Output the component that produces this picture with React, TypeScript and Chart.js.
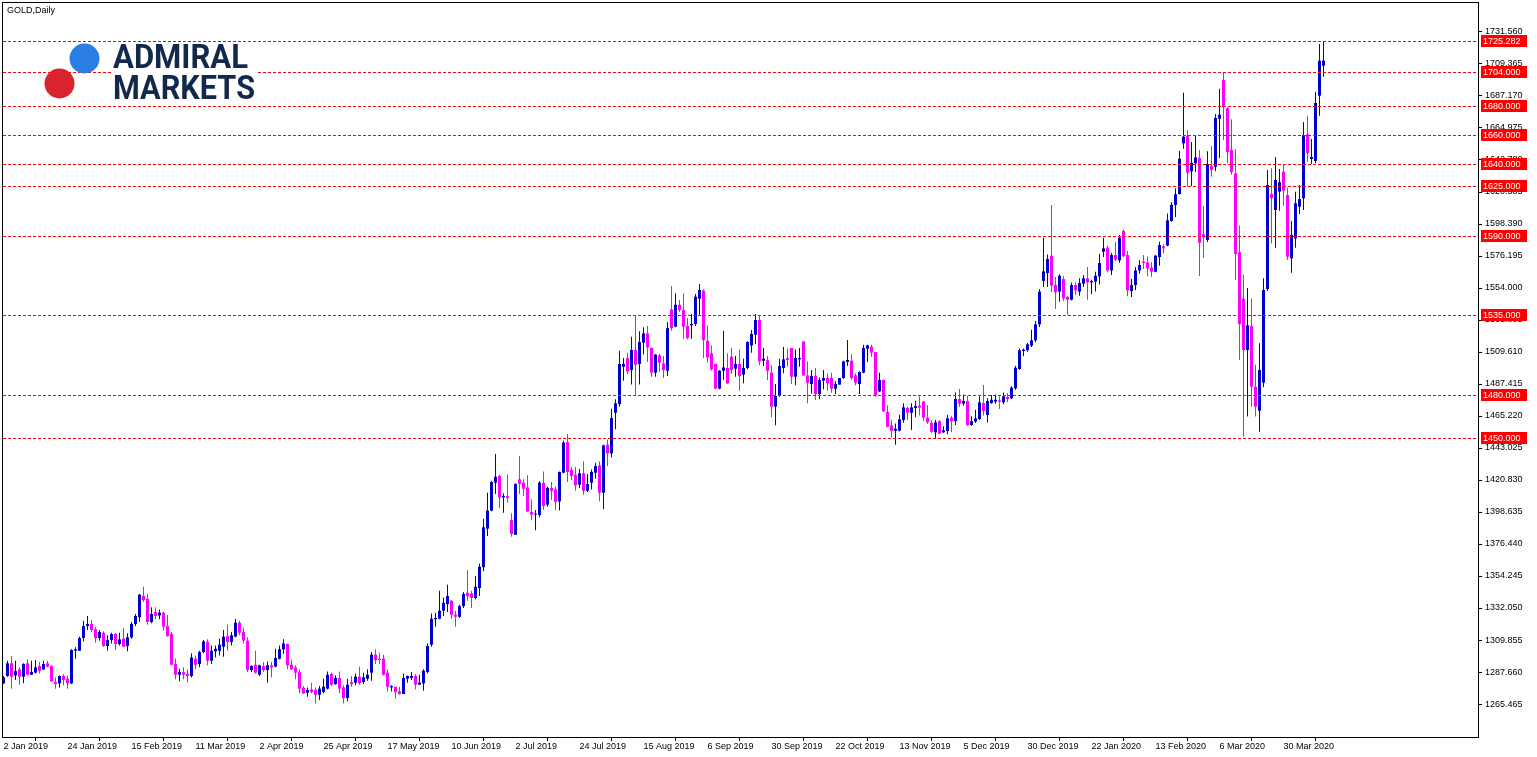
import React, { useEffect, useRef } from 'react';
import { Chart, registerables } from 'chart.js';

Chart.register(...registerables);

const SYMBOL_TITLE = 'GOLD,Daily';

const DATE_LABELS = [
  '2 Jan 2019', '24 Jan 2019', '15 Feb 2019', '11 Mar 2019', '2 Apr 2019', '25 Apr 2019',
  '17 May 2019', '10 Jun 2019', '2 Jul 2019', '24 Jul 2019', '15 Aug 2019', '6 Sep 2019',
  '30 Sep 2019', '22 Oct 2019', '13 Nov 2019', '5 Dec 2019', '30 Dec 2019', '22 Jan 2020',
  '13 Feb 2020', '6 Mar 2020', '30 Mar 2020',
];
const BARS_PER_DATE_LABEL = 16;

const PRICE_TICKS = [
  1265.465, 1287.66, 1309.855, 1332.05, 1354.245, 1376.44, 1398.635, 1420.83, 1443.025,
  1465.22, 1487.415, 1509.61, 1531.805, 1554.0, 1576.195, 1598.39, 1620.585, 1642.78,
  1664.975, 1687.17, 1709.365, 1731.56,
];

const LEVELS = [1725.282, 1704, 1680, 1660, 1640, 1625, 1590, 1535, 1480, 1450];

const OPEN = [
  1279.8, 1284.9, 1293.7, 1285.3, 1289.5, 1284.4, 1293.7, 1285.8, 1287.2, 1291.8,
  1289.5, 1293.7, 1291.8, 1280.7, 1279.8, 1284.9, 1283.0, 1279.8, 1302.4, 1302.4,
  1311.2, 1319.6, 1321.0, 1317.3, 1311.2, 1314.9, 1305.7, 1309.8, 1314.0, 1307.1,
  1310.8, 1305.7, 1311.7, 1321.0, 1325.6, 1340.4, 1338.5, 1322.3, 1329.3, 1326.9,
  1328.8, 1319.6, 1314.0, 1293.2, 1285.8, 1287.6, 1286.3, 1284.9, 1296.9, 1293.2,
  1301.5, 1308.5, 1295.5, 1302.0, 1302.4, 1305.2, 1312.6, 1308.5, 1312.2, 1321.9,
  1315.4, 1309.4, 1289.0, 1292.7, 1285.8, 1291.8, 1289.0, 1292.3, 1291.4, 1296.9,
  1303.4, 1307.1, 1292.7, 1290.9, 1287.6, 1276.6, 1273.3, 1275.6, 1275.2, 1271.9,
  1273.8, 1276.1, 1286.3, 1279.3, 1283.5, 1277.0, 1269.6, 1280.7, 1280.2, 1284.4,
  1280.7, 1283.0, 1287.2, 1299.7, 1296.9, 1296.9, 1287.2, 1277.0, 1277.5, 1274.2,
  1272.4, 1283.0, 1283.5, 1284.9, 1278.9, 1279.8, 1287.7, 1306.6, 1324.2, 1324.6,
  1330.2, 1334.8, 1337.1, 1327.4, 1326.0, 1333.4, 1342.7, 1342.2, 1339.0, 1345.9,
  1360.3, 1387.1, 1399.6, 1419.0, 1423.6, 1408.8, 1409.7, 1393.1, 1382.9, 1421.3,
  1419.0, 1415.7, 1398.6, 1396.8, 1396.5, 1418.9, 1403.7, 1415.3, 1414.3, 1406.0,
  1425.9, 1447.2, 1427.8, 1424.5, 1417.6, 1425.5, 1413.4, 1418.9, 1425.9, 1431.0,
  1412.0, 1445.3, 1439.3, 1467.5, 1473.5, 1499.4, 1505.4, 1497.1, 1511.0, 1501.3,
  1516.1, 1522.5, 1512.4, 1495.3, 1507.3, 1501.7, 1496.6, 1539.2, 1527.2, 1542.4,
  1538.7, 1527.6, 1528.1, 1529.0, 1546.6, 1552.1, 1517.4, 1508.7, 1501.3, 1484.2,
  1496.6, 1498.5, 1506.4, 1498.0, 1501.3, 1493.9, 1498.5, 1514.2, 1521.6, 1531.8,
  1503.6, 1504.0, 1495.3, 1471.7, 1479.1, 1498.5, 1505.4, 1512.4, 1492.5, 1504.5,
  1517.0, 1493.4, 1487.4, 1493.0, 1480.5, 1489.7, 1491.6, 1491.6, 1484.2, 1487.0,
  1491.6, 1502.7, 1503.6, 1493.4, 1487.4, 1495.3, 1511.9, 1513.3, 1509.6, 1482.3,
  1490.2, 1468.0, 1458.7, 1455.0, 1455.0, 1462.4, 1470.8, 1467.5, 1470.8, 1472.4,
  1475.2, 1464.1, 1460.4, 1453.9, 1461.7, 1453.9, 1454.8, 1464.1, 1461.7, 1477.0,
  1473.8, 1475.6, 1459.0, 1461.3, 1463.1, 1474.2, 1465.9, 1474.2, 1475.2, 1476.1,
  1474.7, 1478.4, 1477.5, 1484.4, 1497.8, 1510.3, 1510.8, 1514.0, 1517.7, 1528.8,
  1558.9, 1564.4, 1576.4, 1556.1, 1551.5, 1560.2, 1547.8, 1545.9, 1556.1, 1551.5,
  1557.0, 1560.7, 1557.9, 1558.4, 1562.1, 1579.2, 1582.0, 1566.2, 1576.9, 1573.2,
  1593.5, 1576.9, 1551.9, 1556.1, 1566.2, 1572.3, 1571.8, 1568.1, 1565.3, 1575.5,
  1582.9, 1583.4, 1600.5, 1611.6, 1619.2, 1654.3, 1659.4, 1634.9, 1640.5, 1644.2,
  1591.4, 1587.3, 1638.6, 1638.1, 1671.4, 1698.3, 1678.8, 1649.7, 1633.5, 1578.9,
  1546.6, 1511.0, 1527.6, 1485.6, 1468.9, 1488.3, 1553.3, 1619.2, 1608.1, 1620.8,
  1634.7, 1618.5, 1574.6, 1588.4, 1610.4, 1616.2, 1660.6, 1643.5, 1642.1, 1687.4,
  1708.2,
];

const HIGH = [
  1284.9, 1295.5, 1298.7, 1295.5, 1290.9, 1293.7, 1296.4, 1295.5, 1296.0, 1294.6,
  1295.5, 1295.5, 1292.3, 1283.9, 1285.3, 1286.3, 1285.3, 1303.4, 1304.8, 1312.2,
  1323.3, 1326.5, 1323.7, 1319.1, 1316.8, 1315.9, 1313.1, 1314.9, 1314.9, 1314.9,
  1318.2, 1314.5, 1322.3, 1327.9, 1341.8, 1346.8, 1341.8, 1332.5, 1332.5, 1331.1,
  1329.3, 1327.4, 1315.4, 1296.9, 1290.0, 1290.9, 1289.5, 1300.6, 1299.2, 1302.4,
  1309.8, 1310.3, 1306.1, 1306.1, 1310.8, 1316.8, 1320.5, 1315.4, 1324.6, 1323.3,
  1318.6, 1311.7, 1292.3, 1302.4, 1292.7, 1294.6, 1295.0, 1294.6, 1303.8, 1306.1,
  1310.3, 1307.5, 1296.4, 1292.3, 1289.5, 1278.0, 1277.0, 1280.3, 1277.0, 1278.0,
  1283.0, 1288.1, 1287.2, 1285.3, 1288.1, 1278.4, 1283.0, 1284.9, 1286.7, 1291.4,
  1287.2, 1289.5, 1301.5, 1303.4, 1301.1, 1299.7, 1289.5, 1278.4, 1277.5, 1277.5,
  1286.7, 1285.3, 1287.7, 1286.3, 1285.8, 1289.5, 1307.5, 1328.3, 1328.8, 1344.1,
  1339.4, 1348.2, 1337.6, 1330.2, 1334.4, 1343.1, 1358.4, 1344.1, 1354.2, 1363.0,
  1394.0, 1412.0, 1420.4, 1438.9, 1424.5, 1411.6, 1424.5, 1397.7, 1418.5, 1437.5,
  1421.3, 1424.1, 1407.4, 1400.0, 1420.0, 1426.8, 1416.2, 1419.4, 1416.2, 1426.8,
  1448.1, 1452.7, 1430.1, 1430.1, 1428.7, 1433.8, 1425.0, 1428.2, 1432.8, 1433.8,
  1445.3, 1449.0, 1470.3, 1476.8, 1510.5, 1505.4, 1509.1, 1520.2, 1535.0, 1524.0,
  1526.7, 1527.6, 1512.8, 1508.2, 1508.2, 1506.8, 1530.4, 1555.4, 1550.3, 1545.7,
  1550.3, 1533.2, 1535.9, 1549.8, 1556.8, 1553.1, 1528.1, 1514.2, 1501.7, 1497.1,
  1524.4, 1508.7, 1512.4, 1506.8, 1511.4, 1505.0, 1517.0, 1524.9, 1535.9, 1535.0,
  1512.4, 1506.8, 1500.4, 1487.4, 1505.0, 1513.0, 1511.9, 1512.4, 1511.4, 1512.4,
  1517.0, 1503.1, 1497.1, 1498.5, 1492.0, 1497.1, 1494.8, 1495.3, 1489.3, 1491.6,
  1503.6, 1517.9, 1508.2, 1494.8, 1496.2, 1514.7, 1514.7, 1514.7, 1509.6, 1495.3,
  1490.6, 1472.6, 1462.4, 1460.1, 1466.1, 1474.0, 1471.7, 1474.0, 1475.8, 1478.9,
  1475.6, 1472.8, 1462.2, 1462.7, 1462.2, 1458.1, 1465.9, 1465.4, 1481.6, 1483.9,
  1480.2, 1479.3, 1465.0, 1469.6, 1478.9, 1486.7, 1477.5, 1479.8, 1480.2, 1478.9,
  1481.6, 1481.2, 1485.8, 1500.1, 1512.1, 1512.1, 1515.8, 1525.1, 1531.1, 1553.3,
  1588.9, 1577.3, 1611.6, 1561.6, 1563.5, 1562.1, 1548.7, 1557.9, 1557.9, 1560.7,
  1563.0, 1568.6, 1559.8, 1565.3, 1577.8, 1588.9, 1583.4, 1578.3, 1586.1, 1590.8,
  1594.5, 1579.7, 1560.2, 1568.6, 1573.2, 1576.9, 1575.9, 1571.8, 1576.9, 1586.1,
  1584.3, 1605.6, 1613.4, 1623.1, 1649.2, 1689.5, 1663.6, 1655.3, 1659.9, 1649.7,
  1610.9, 1648.8, 1652.5, 1674.7, 1692.2, 1703.3, 1679.3, 1671.0, 1650.2, 1597.4,
  1563.2, 1554.0, 1546.6, 1500.8, 1515.6, 1560.7, 1635.8, 1637.0, 1644.8, 1636.5,
  1639.8, 1623.6, 1600.5, 1620.8, 1625.4, 1669.1, 1673.5, 1657.3, 1690.2, 1723.2,
  1725.3,
];

const LOW = [
  1279.3, 1284.4, 1276.1, 1282.1, 1278.9, 1279.8, 1285.3, 1285.8, 1286.7, 1286.7,
  1289.0, 1290.9, 1280.7, 1276.1, 1277.0, 1278.4, 1276.1, 1279.3, 1296.9, 1302.4,
  1308.9, 1316.8, 1315.4, 1308.0, 1309.4, 1305.2, 1302.4, 1307.5, 1302.9, 1306.1,
  1304.8, 1302.0, 1310.8, 1319.6, 1322.3, 1336.2, 1320.5, 1321.4, 1324.2, 1324.2,
  1316.3, 1312.2, 1292.3, 1282.6, 1281.2, 1282.6, 1280.3, 1283.9, 1289.5, 1290.9,
  1300.6, 1292.3, 1293.2, 1297.8, 1299.2, 1298.3, 1302.4, 1306.1, 1311.7, 1313.1,
  1307.5, 1287.7, 1287.7, 1286.7, 1284.9, 1287.7, 1280.2, 1284.0, 1290.9, 1296.4,
  1300.1, 1289.5, 1289.0, 1282.6, 1272.9, 1272.4, 1270.5, 1272.9, 1265.9, 1268.2,
  1272.9, 1275.6, 1277.9, 1278.9, 1272.9, 1265.9, 1267.3, 1277.5, 1278.4, 1278.9,
  1279.3, 1281.6, 1281.6, 1293.2, 1293.2, 1285.3, 1274.2, 1274.2, 1269.2, 1271.9,
  1272.4, 1280.3, 1282.1, 1275.6, 1278.9, 1274.7, 1286.7, 1305.2, 1319.1, 1324.2,
  1326.5, 1329.3, 1324.6, 1319.1, 1325.1, 1332.0, 1337.1, 1332.0, 1338.1, 1340.4,
  1357.5, 1382.0, 1399.1, 1411.1, 1401.4, 1398.2, 1405.1, 1381.5, 1382.9, 1411.1,
  1409.7, 1398.6, 1393.0, 1386.0, 1395.0, 1400.0, 1402.3, 1406.9, 1400.0, 1399.6,
  1425.5, 1419.4, 1420.8, 1413.4, 1415.3, 1410.6, 1412.5, 1414.3, 1421.7, 1406.0,
  1400.5, 1430.5, 1436.5, 1456.0, 1471.7, 1489.7, 1494.3, 1487.0, 1479.5, 1487.0,
  1507.8, 1502.7, 1492.5, 1492.5, 1495.7, 1491.6, 1493.0, 1524.4, 1526.7, 1537.3,
  1518.8, 1518.4, 1518.8, 1527.6, 1535.5, 1505.4, 1502.2, 1496.6, 1483.7, 1483.7,
  1490.2, 1487.4, 1494.3, 1492.5, 1482.8, 1487.9, 1497.6, 1509.1, 1515.2, 1500.4,
  1499.9, 1490.2, 1464.3, 1458.8, 1478.6, 1494.8, 1499.4, 1487.4, 1486.5, 1499.4,
  1493.0, 1474.0, 1480.9, 1476.3, 1476.8, 1483.7, 1482.8, 1481.4, 1480.5, 1487.0,
  1491.1, 1499.9, 1490.2, 1486.5, 1480.5, 1494.8, 1502.7, 1506.4, 1478.6, 1481.9,
  1468.0, 1457.4, 1450.4, 1445.3, 1454.6, 1460.6, 1462.4, 1455.5, 1464.3, 1465.5,
  1461.7, 1459.9, 1453.4, 1449.7, 1452.5, 1453.4, 1452.5, 1453.9, 1459.0, 1471.5,
  1472.4, 1458.5, 1458.5, 1460.4, 1462.2, 1465.5, 1460.8, 1473.8, 1473.8, 1470.1,
  1473.3, 1474.7, 1477.0, 1483.5, 1497.3, 1506.6, 1509.8, 1513.1, 1516.3, 1526.9,
  1554.7, 1554.7, 1551.0, 1539.4, 1544.5, 1545.0, 1535.3, 1545.4, 1549.1, 1548.7,
  1554.7, 1545.9, 1549.6, 1551.5, 1556.5, 1575.5, 1564.9, 1563.0, 1572.7, 1571.3,
  1575.5, 1548.2, 1547.8, 1552.4, 1563.9, 1567.2, 1562.1, 1561.6, 1564.9, 1569.5,
  1578.3, 1582.9, 1600.0, 1603.2, 1618.7, 1650.6, 1624.3, 1624.7, 1634.4, 1562.3,
  1574.8, 1585.9, 1631.2, 1634.9, 1644.2, 1656.6, 1640.5, 1632.6, 1559.5, 1504.1,
  1450.9, 1464.8, 1471.7, 1464.8, 1454.3, 1485.1, 1551.9, 1585.0, 1582.0, 1607.6,
  1610.9, 1573.4, 1564.6, 1582.0, 1605.3, 1608.1, 1641.6, 1640.2, 1640.5, 1673.5,
  1700.6,
];

const CLOSE = [
  1283.9, 1293.7, 1284.4, 1288.3, 1284.4, 1293.2, 1285.8, 1287.7, 1290.9, 1288.6,
  1293.2, 1291.4, 1281.2, 1279.3, 1284.9, 1282.1, 1279.8, 1302.9, 1303.4, 1311.2,
  1319.6, 1321.0, 1316.8, 1311.2, 1315.4, 1305.7, 1309.8, 1314.0, 1307.1, 1310.3,
  1305.2, 1311.7, 1321.0, 1326.5, 1341.3, 1337.6, 1322.3, 1327.9, 1326.5, 1328.8,
  1319.1, 1312.6, 1292.7, 1285.8, 1287.6, 1285.8, 1284.9, 1297.8, 1292.7, 1301.5,
  1308.9, 1295.5, 1302.4, 1303.8, 1306.6, 1312.2, 1308.5, 1313.1, 1321.9, 1314.9,
  1309.4, 1289.0, 1291.8, 1287.2, 1292.3, 1289.0, 1292.3, 1290.9, 1297.4, 1303.4,
  1307.5, 1292.3, 1289.5, 1287.2, 1276.1, 1272.9, 1275.2, 1273.8, 1271.9, 1276.1,
  1277.5, 1285.8, 1278.9, 1283.5, 1276.1, 1269.6, 1278.9, 1279.3, 1284.4, 1279.8,
  1284.0, 1285.8, 1299.7, 1296.0, 1296.0, 1285.8, 1277.5, 1277.9, 1273.8, 1272.4,
  1283.5, 1284.9, 1284.9, 1278.9, 1280.3, 1288.6, 1305.7, 1324.6, 1325.1, 1330.2,
  1335.7, 1340.4, 1327.4, 1326.0, 1333.4, 1341.8, 1340.4, 1339.0, 1346.8, 1360.7,
  1388.0, 1399.6, 1419.4, 1423.1, 1408.8, 1409.7, 1408.4, 1383.4, 1418.1, 1418.1,
  1414.8, 1399.1, 1396.8, 1397.5, 1419.0, 1402.8, 1415.3, 1413.4, 1405.6, 1426.4,
  1446.7, 1426.4, 1423.6, 1417.1, 1425.5, 1413.4, 1418.0, 1426.4, 1430.5, 1412.0,
  1444.9, 1439.3, 1463.8, 1474.0, 1501.3, 1501.3, 1496.2, 1511.0, 1500.8, 1516.5,
  1522.5, 1512.8, 1495.3, 1507.8, 1502.2, 1497.1, 1526.2, 1526.2, 1542.4, 1538.7,
  1527.2, 1519.3, 1529.0, 1548.0, 1552.6, 1517.9, 1505.9, 1497.6, 1484.2, 1496.6,
  1498.9, 1487.9, 1497.1, 1501.3, 1493.0, 1498.5, 1516.5, 1522.1, 1531.8, 1503.1,
  1505.0, 1496.6, 1471.7, 1479.1, 1499.9, 1504.5, 1504.1, 1492.5, 1505.4, 1505.4,
  1493.4, 1488.3, 1493.0, 1480.5, 1490.2, 1491.6, 1487.9, 1484.2, 1487.4, 1491.6,
  1503.1, 1504.1, 1491.6, 1488.3, 1495.7, 1512.4, 1514.2, 1509.1, 1479.5, 1490.2,
  1468.4, 1457.8, 1455.0, 1456.4, 1462.9, 1471.2, 1467.5, 1471.2, 1472.1, 1471.0,
  1464.1, 1460.8, 1454.3, 1460.8, 1453.0, 1455.3, 1463.6, 1461.7, 1477.0, 1473.8,
  1475.6, 1459.0, 1461.7, 1463.6, 1474.7, 1468.7, 1475.6, 1476.5, 1476.5, 1475.2,
  1478.9, 1477.0, 1484.9, 1498.7, 1510.8, 1511.2, 1514.9, 1517.7, 1528.8, 1551.5,
  1565.5, 1574.1, 1555.6, 1551.0, 1562.5, 1546.8, 1545.9, 1556.1, 1552.4, 1557.5,
  1560.7, 1557.9, 1558.8, 1562.5, 1571.3, 1581.5, 1566.2, 1576.9, 1573.6, 1588.9,
  1576.0, 1552.4, 1556.1, 1566.2, 1569.9, 1571.3, 1567.6, 1565.3, 1576.4, 1583.8,
  1581.5, 1600.9, 1611.6, 1619.0, 1643.7, 1659.0, 1634.0, 1640.9, 1644.6, 1585.4,
  1589.1, 1640.0, 1635.8, 1671.9, 1674.2, 1679.3, 1648.3, 1634.4, 1577.6, 1529.0,
  1511.0, 1528.1, 1485.6, 1471.7, 1497.1, 1552.6, 1625.4, 1616.2, 1628.9, 1627.3,
  1621.5, 1575.7, 1590.8, 1612.7, 1615.7, 1660.1, 1647.6, 1644.9, 1682.3, 1711.7,
  1711.7,
];

const BULL = '#0000CD';
const BEAR = '#FF00FF';
const LEVEL_COLOR = '#FF0000';
const FONT_FAMILY = '"Liberation Sans", Arial, sans-serif';
const FONT_SIZE = 9;

const overlayPlugin = {
  id: 'mtOverlay',
  beforeDraw(chart: any) {
    const { ctx, width, height } = chart;
    ctx.save();
    ctx.fillStyle = '#ffffff';
    ctx.fillRect(0, 0, width, height);
    ctx.restore();
  },
  afterDatasetsDraw(chart: any) {
    const { ctx, chartArea: a, scales } = chart;
    const y = scales.y;
    ctx.save();
    ctx.beginPath();
    ctx.rect(a.left, a.top, a.right - a.left, a.bottom - a.top);
    ctx.clip();
    ctx.strokeStyle = LEVEL_COLOR;
    ctx.lineWidth = 1;
    ctx.setLineDash([3, 2]);
    LEVELS.forEach((v) => {
      const py = Math.round(y.getPixelForValue(v)) + 0.5;
      ctx.beginPath();
      ctx.moveTo(a.left, py);
      ctx.lineTo(a.right, py);
      ctx.stroke();
    });
    ctx.restore();
  },
  afterDraw(chart: any) {
    const { ctx, chartArea: a, scales } = chart;
    const y = scales.y;
    ctx.save();
    ctx.setLineDash([]);
    ctx.strokeStyle = '#000000';
    ctx.lineWidth = 1;
    ctx.strokeRect(a.left - 0.5, a.top - 0.5, a.right - a.left + 1, a.bottom - a.top + 1);

    // level labels on the price axis
    ctx.font = `${FONT_SIZE}px ${FONT_FAMILY}`;
    ctx.textAlign = 'left';
    ctx.textBaseline = 'middle';
    LEVELS.forEach((v) => {
      const py = Math.round(y.getPixelForValue(v));
      ctx.fillStyle = LEVEL_COLOR;
      ctx.fillRect(a.right + 3, py - 6, 46, 12);
      ctx.fillStyle = '#ffffff';
      ctx.fillText(v.toFixed(3), a.right + 5, py + 0.5);
    });

    // title
    ctx.fillStyle = '#000000';
    ctx.textBaseline = 'alphabetic';
    ctx.fillText(SYMBOL_TITLE, a.left + 4, a.top + 10);

    // logo
    ctx.fillStyle = '#ffffff';
    ctx.fillRect(111, 43, 146, 57);
    ctx.fillStyle = '#2B7FE2';
    ctx.beginPath();
    ctx.arc(84.5, 58.5, 15, 0, Math.PI * 2);
    ctx.fill();
    ctx.fillStyle = '#D9232F';
    ctx.beginPath();
    ctx.arc(59.5, 83.5, 15, 0, Math.PI * 2);
    ctx.fill();
    ctx.fillStyle = '#12294C';
    ctx.font = 'bold 34px Roboto, "DejaVu Sans", sans-serif';
    const drawFit = (text: string, x: number, base: number, w: number) => {
      const m = ctx.measureText(text).width;
      ctx.save();
      ctx.translate(x, base);
      ctx.scale(w / m, 1);
      ctx.fillText(text, 0, 0);
      ctx.restore();
    };
    drawFit('ADMIRAL', 113, 67.5, 135);
    drawFit('MARKETS', 113, 98.5, 142);
    ctx.restore();
  },
};

export default function App() {
  const ref = useRef<HTMLCanvasElement>(null);

  useEffect(() => {
    const canvas = ref.current;
    if (!canvas) return;
    const idx = OPEN.map((_, i) => i);
    const colors = idx.map((i) => (CLOSE[i] >= OPEN[i] ? BULL : BEAR));
    const wickData = idx.map((i) => ({ x: i, y: [LOW[i], HIGH[i]] }));
    const bodyData = idx.map((i) => ({ x: i, y: [OPEN[i], CLOSE[i]] }));
    const font = { family: FONT_FAMILY, size: FONT_SIZE };

    const chart = new Chart(canvas, {
      type: 'bar',
      data: {
        datasets: [
          {
            data: wickData as any,
            backgroundColor: colors,
            borderWidth: 0,
            barThickness: 1,
            grouped: false,
            inflateAmount: 0,
          } as any,
          {
            data: bodyData as any,
            backgroundColor: colors,
            borderWidth: 0,
            barThickness: 3,
            grouped: false,
            inflateAmount: 0,
            minBarLength: 1,
          } as any,
        ],
      },
      options: {
        animation: false,
        responsive: false,
        devicePixelRatio: 1,
        layout: { padding: { left: 3, top: 3, right: 0, bottom: 0 } },
        plugins: { legend: { display: false }, tooltip: { enabled: false } },
        events: [],
        scales: {
          x: {
            type: 'linear',
            min: -0.125,
            max: 368.625,
            offset: false,
            afterBuildTicks: (s: any) => {
              s.ticks = DATE_LABELS.map((_, k) => ({ value: k * BARS_PER_DATE_LABEL }));
            },
            afterFit: (s: any) => {
              s.height = 20;
              s.paddingLeft = 0;
              s.paddingRight = 0;
            },
            ticks: {
              align: 'start',
              autoSkip: false,
              maxRotation: 0,
              minRotation: 0,
              padding: 0,
              color: '#000000',
              font,
              callback: (_v: any, i: number) => DATE_LABELS[i],
            },
            grid: {
              display: true,
              drawOnChartArea: false,
              drawTicks: true,
              tickLength: 4,
              color: '#000000',
            },
            border: { display: false },
          } as any,
          y: {
            type: 'linear',
            position: 'right',
            min: 1242.59,
            max: 1751.67,
            afterBuildTicks: (s: any) => {
              s.ticks = PRICE_TICKS.map((v) => ({ value: v }));
            },
            afterFit: (s: any) => {
              s.width = 59;
              s.paddingTop = 0;
              s.paddingBottom = 0;
            },
            ticks: {
              padding: 3,
              crossAlign: 'near',
              color: '#000000',
              font,
              callback: (v: any) => Number(v).toFixed(3),
            },
            grid: {
              display: true,
              drawOnChartArea: false,
              drawTicks: true,
              tickLength: 4,
              color: '#000000',
            },
            border: { display: false },
          } as any,
        },
      },
      plugins: [overlayPlugin],
    });
    return () => chart.destroy();
  }, []);

  return (
    <div style={{ position: 'fixed', left: 0, top: 0, width: 1537, height: 757, background: '#fff' }}>
      <canvas ref={ref} width={1537} height={757} style={{ display: 'block', width: 1537, height: 757 }} />
    </div>
  );
}
